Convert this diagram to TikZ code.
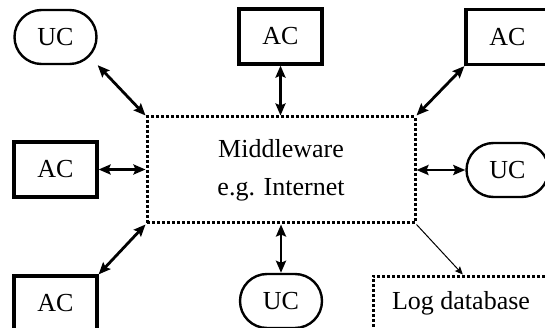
\documentclass[tikz,border=0pt]{standalone}
\usepackage{fontspec}
\setmainfont{Liberation Serif}
\usetikzlibrary{arrows.meta,shapes.misc,calc}
\tikzset{
  lbl/.style={font=\fontsize{26}{38}\selectfont, inner sep=0pt},
  acbox/.style={lbl, draw, line width=3.2pt, minimum width=83pt, minimum height=55pt},
  ucbox/.style={lbl, draw, rounded rectangle, line width=2.4pt, minimum width=82pt, minimum height=54pt},
  dotbox/.style={lbl, draw, line width=3pt, dash pattern=on 3pt off 2pt},
  link/.style={line width=2.8pt, {Stealth[length=12pt,width=10pt,inset=2pt]}-{Stealth[length=12pt,width=10pt,inset=2pt]}},
  loglink/.style={line width=1pt, -{Stealth[length=8pt,width=7pt,inset=1.5pt]}}
}
\begin{document}
\begin{tikzpicture}[x=1pt,y=-1pt]
\useasboundingbox (0,0) rectangle (545,328);
\clip (0,0) rectangle (545,328);
\fill[white] (0,0) rectangle (545,328);
% nodes
\node[ucbox] (uc1) at (55.5,37) {UC};
\node[acbox] (ac1) at (280.5,36.5) {AC};
\node[acbox] (ac2) at (507.5,37) {AC};
\node[acbox] (ac3) at (55.5,169.5) {AC};
\node[ucbox] (uc2) at (507.5,170) {UC};
\node[dotbox, minimum width=268pt, minimum height=106pt, align=center] (mw) at (281,170) {Middleware\\e.g. Internet};
\node[acbox] (ac4) at (55.5,303.5) {AC};
\node[ucbox] (uc3) at (281,301) {UC};
\node[dotbox, minimum width=176pt, minimum height=55pt] (log) at (461,303.5) {Log database};
% connectors
\draw[link] (uc1.east |- uc1.south) -- (mw.north west);
\draw[link] (ac1.south) -- (ac1.south |- mw.north);
\draw[link] (ac2.south west) -- (mw.north east);
\draw[link] (ac3.east) -- (ac3.east -| mw.west);
\draw[link] (mw.east |- uc2.west) -- (uc2.west);
\draw[link] (mw.south west) -- (ac4.north east);
\draw[link] (uc3.north |- mw.south) -- (uc3.north);
\draw[loglink] (mw.south east) -- ($(log.north west)!0.51!(log.north east)$);
\end{tikzpicture}
\end{document}
